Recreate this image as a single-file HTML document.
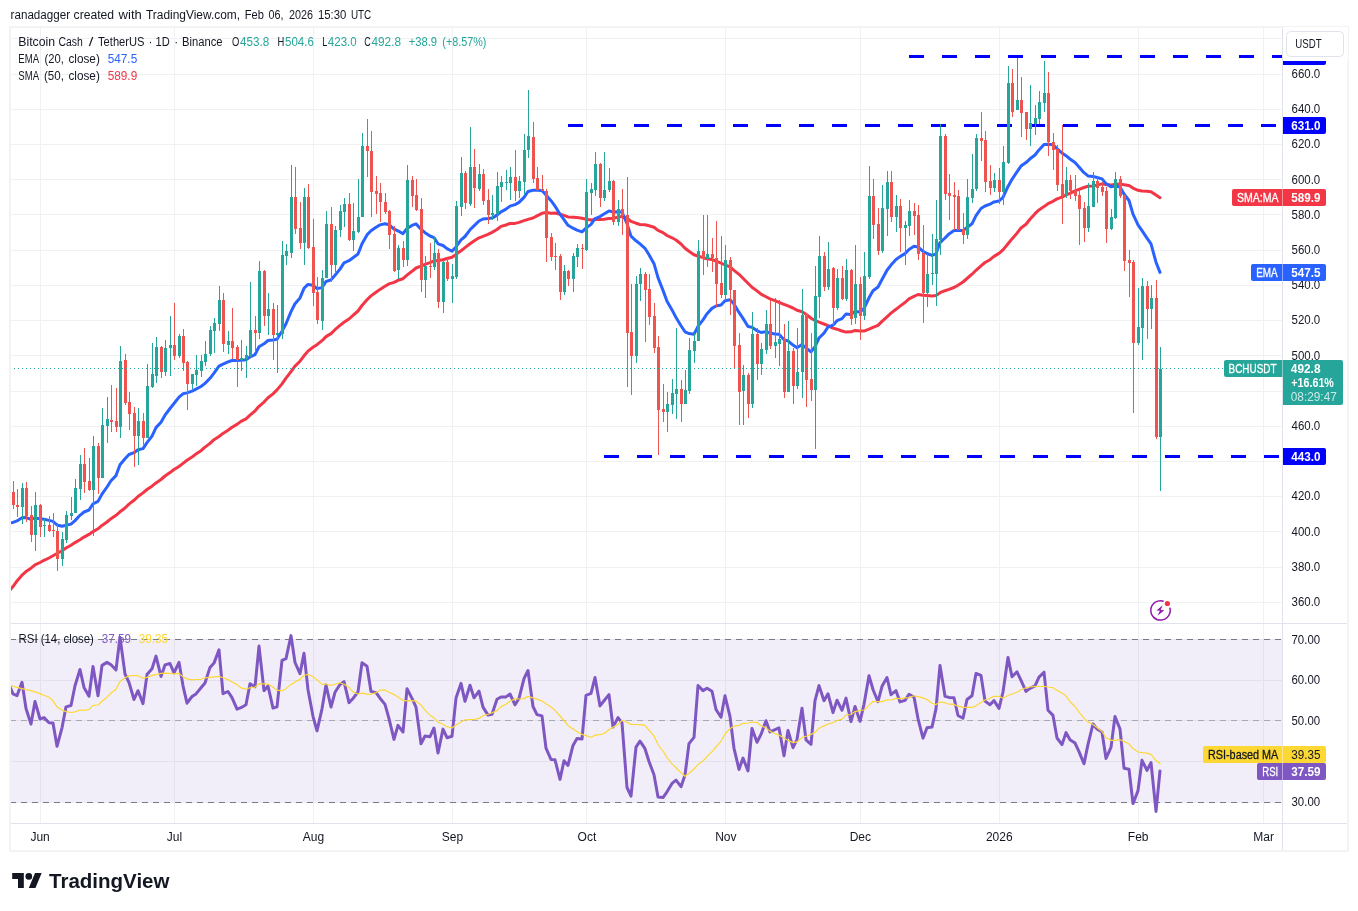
<!DOCTYPE html><html><head><meta charset="utf-8"><title>BCHUSDT</title><style>html,body{margin:0;padding:0;background:#fff}svg{display:block;will-change:transform}</style></head><body><svg width="1358" height="911" viewBox="0 0 1358 911" font-family="Liberation Sans, sans-serif" font-size="12">
<rect width="1358" height="911" fill="#fff"/>
<path d="M10 602.5H1282 M10 567.5H1282 M10 531.5H1282 M10 496.5H1282 M10 461.5H1282 M10 426.5H1282 M10 391.5H1282 M10 355.5H1282 M10 320.5H1282 M10 285.5H1282 M10 250.5H1282 M10 214.5H1282 M10 179.5H1282 M10 144.5H1282 M10 109.5H1282 M10 74.5H1282 M10 38.5H1282 M10 639.5H1282 M10 680.5H1282 M10 720.5H1282 M10 761.5H1282 M10 802.5H1282 M40.5 27V823 M174.5 27V823 M313.5 27V823 M452.5 27V823 M586.5 27V823 M725.5 27V823 M860.5 27V823 M999.5 27V823 M1138.5 27V823 M1263.5 27V823" stroke="#f0f1f3" stroke-width="1" fill="none" shape-rendering="crispEdges"/>
<rect x="10" y="639.4" width="1272" height="162.80000000000007" fill="#7e57c2" fill-opacity="0.1"/>
<path d="M10 639.5H1282" stroke="#787b86" stroke-opacity="1" stroke-width="1" stroke-dasharray="6 5" shape-rendering="crispEdges"/>
<path d="M10 720.5H1282" stroke="#787b86" stroke-opacity="0.55" stroke-width="1" stroke-dasharray="6 5" shape-rendering="crispEdges"/>
<path d="M10 802.5H1282" stroke="#787b86" stroke-opacity="1" stroke-width="1" stroke-dasharray="6 5" shape-rendering="crispEdges"/>
<path d="M909 56.5H1283" stroke="#0000ff" stroke-width="3" stroke-dasharray="15 18" shape-rendering="crispEdges"/>
<path d="M568 125.5H1283" stroke="#0000ff" stroke-width="3" stroke-dasharray="15 18" shape-rendering="crispEdges"/>
<path d="M604 456.5H1283" stroke="#0000ff" stroke-width="3" stroke-dasharray="15 18" shape-rendering="crispEdges"/>
<clipPath id="cp"><rect x="10" y="27" width="1272" height="596"/></clipPath><clipPath id="cr"><rect x="10" y="624" width="1272" height="199"/></clipPath>
<g clip-path="url(#cp)">
<polyline points="8.0,592.3 13.0,586.6 17.0,580.9 22.0,575.2 26.0,571.6 31.0,568.2 35.0,564.8 40.0,562.5 44.0,560.3 49.0,558.0 53.0,555.8 57.0,553.5 62.0,550.8 66.0,548.0 71.0,545.3 75.0,542.6 80.0,539.8 84.0,537.1 89.0,534.4 93.0,531.6 98.0,528.8 102.0,525.4 107.0,522.0 111.0,518.7 116.0,515.3 120.0,511.8 125.0,508.0 129.0,504.1 134.0,500.3 138.0,496.5 143.0,492.9 147.0,489.5 152.0,486.2 156.0,482.9 161.0,479.5 165.0,476.0 170.0,472.6 174.0,469.5 179.0,466.5 183.0,463.4 187.0,460.3 192.0,457.1 196.0,453.9 201.0,450.7 205.0,447.1 210.0,443.4 214.0,439.7 219.0,436.5 223.0,433.4 228.0,430.3 232.0,427.3 237.0,424.4 241.0,421.4 246.0,418.8 250.0,415.1 255.0,411.0 259.0,406.3 264.0,402.1 268.0,397.8 273.0,393.9 277.0,389.9 282.0,383.9 286.0,378.1 291.0,371.7 295.0,366.1 300.0,361.2 304.0,355.8 308.0,351.1 313.0,347.2 317.0,344.7 322.0,340.7 326.0,336.6 331.0,333.6 335.0,329.7 340.0,325.4 344.0,322.3 349.0,319.0 353.0,315.4 358.0,311.0 362.0,305.5 367.0,299.8 371.0,295.9 376.0,292.3 380.0,289.4 385.0,286.2 389.0,283.9 394.0,282.4 398.0,280.3 403.0,278.7 407.0,275.1 412.0,271.3 416.0,268.0 421.0,266.2 425.0,264.3 430.0,262.6 434.0,261.0 438.0,260.6 443.0,259.8 447.0,258.5 452.0,257.2 456.0,254.4 461.0,250.7 465.0,247.6 470.0,243.8 474.0,241.0 479.0,237.8 483.0,236.4 488.0,234.4 492.0,232.4 497.0,229.5 501.0,226.4 506.0,225.0 510.0,223.5 515.0,223.4 519.0,222.4 524.0,220.6 528.0,219.4 533.0,218.0 537.0,215.9 542.0,213.3 546.0,212.5 551.0,213.2 555.0,213.0 560.0,214.2 564.0,215.4 568.0,216.9 573.0,217.3 577.0,217.6 582.0,218.3 586.0,219.2 591.0,219.9 595.0,219.4 600.0,219.4 604.0,219.2 609.0,218.6 613.0,218.3 618.0,217.1 622.0,216.4 627.0,217.9 631.0,221.4 636.0,223.2 640.0,224.5 645.0,224.7 649.0,225.7 654.0,227.3 658.0,230.4 663.0,232.6 667.0,235.5 672.0,237.8 676.0,240.0 681.0,244.0 685.0,248.3 689.0,251.3 694.0,254.7 698.0,256.0 703.0,257.7 707.0,258.8 712.0,259.6 716.0,261.0 721.0,263.2 725.0,264.8 730.0,266.9 734.0,270.3 739.0,274.3 743.0,278.2 748.0,283.3 752.0,287.2 757.0,290.9 761.0,294.1 766.0,296.8 770.0,298.9 775.0,300.6 779.0,302.3 784.0,304.3 788.0,305.9 793.0,308.0 797.0,310.3 802.0,311.7 806.0,314.3 811.0,318.2 815.0,320.4 819.0,322.2 824.0,324.0 828.0,325.6 833.0,328.1 837.0,329.2 842.0,331.0 846.0,332.1 851.0,331.8 855.0,330.4 860.0,331.0 864.0,331.1 869.0,329.2 873.0,327.4 878.0,325.4 882.0,321.4 887.0,316.8 891.0,313.1 896.0,309.3 900.0,306.1 905.0,302.5 909.0,298.9 914.0,296.3 918.0,294.5 923.0,295.3 927.0,295.6 932.0,296.0 936.0,295.6 940.0,292.7 945.0,290.7 949.0,289.4 954.0,287.5 958.0,285.2 963.0,282.0 967.0,278.5 972.0,274.2 976.0,270.3 981.0,265.8 985.0,262.5 990.0,259.7 994.0,256.4 999.0,253.4 1003.0,249.9 1008.0,243.7 1012.0,238.9 1017.0,233.2 1021.0,228.0 1026.0,224.3 1030.0,219.2 1035.0,213.7 1039.0,209.9 1044.0,206.6 1048.0,203.7 1053.0,201.3 1057.0,198.9 1062.0,197.2 1066.0,194.9 1070.0,193.3 1075.0,190.8 1079.0,189.3 1084.0,187.5 1088.0,186.2 1093.0,185.9 1097.0,185.1 1102.0,183.9 1106.0,184.4 1111.0,185.1 1115.0,184.3 1120.0,184.1 1124.0,184.7 1129.0,185.5 1133.0,188.1 1138.0,190.3 1142.0,191.0 1147.0,191.3 1151.0,191.8 1156.0,195.1 1160.0,197.7" fill="none" stroke="#f23645" stroke-width="3" stroke-linejoin="round" stroke-linecap="round" />
<polyline points="8.0,522.9 13.0,522.4 17.0,520.9 22.0,517.8 26.0,517.6 31.0,519.2 35.0,517.9 40.0,518.7 44.0,519.3 49.0,520.4 53.0,521.4 57.0,525.0 62.0,526.3 66.0,525.2 71.0,524.1 75.0,520.6 80.0,515.3 84.0,512.0 89.0,510.0 93.0,503.9 98.0,501.4 102.0,494.1 107.0,487.0 111.0,480.8 116.0,475.6 120.0,464.7 125.0,458.8 129.0,454.5 134.0,452.7 138.0,449.7 143.0,448.6 147.0,442.6 152.0,436.1 156.0,427.6 161.0,422.3 165.0,415.2 170.0,408.5 174.0,403.5 179.0,397.1 183.0,393.8 187.0,392.9 192.0,391.1 196.0,389.1 201.0,386.5 205.0,383.4 210.0,378.3 214.0,373.1 219.0,366.1 223.0,364.1 228.0,361.9 232.0,360.5 237.0,360.5 241.0,360.3 246.0,359.8 250.0,357.0 255.0,354.6 259.0,346.7 264.0,343.8 268.0,340.5 273.0,340.0 277.0,339.3 282.0,331.3 286.0,323.7 291.0,311.6 295.0,303.7 300.0,297.9 304.0,288.3 308.0,284.4 313.0,285.2 317.0,288.6 322.0,287.6 326.0,281.5 331.0,279.9 335.0,275.2 340.0,269.1 344.0,262.9 349.0,260.7 353.0,257.8 358.0,254.0 362.0,243.7 367.0,234.9 371.0,230.8 376.0,227.2 380.0,224.9 385.0,223.7 389.0,224.7 394.0,229.1 398.0,230.9 403.0,233.7 407.0,228.5 412.0,225.4 416.0,223.9 421.0,229.2 425.0,232.7 430.0,236.0 434.0,237.6 438.0,243.8 443.0,245.5 447.0,248.6 452.0,251.3 456.0,247.0 461.0,239.9 465.0,236.5 470.0,229.8 474.0,225.9 479.0,221.0 483.0,219.0 488.0,218.6 492.0,218.1 497.0,215.1 501.0,211.9 506.0,209.1 510.0,206.1 515.0,204.6 519.0,202.4 524.0,197.4 528.0,191.5 533.0,190.3 537.0,190.3 542.0,190.4 546.0,194.9 551.0,200.7 555.0,206.1 560.0,214.2 564.0,219.6 568.0,225.3 573.0,228.2 577.0,230.1 582.0,231.9 586.0,228.1 591.0,224.4 595.0,218.7 600.0,216.6 604.0,214.1 609.0,210.9 613.0,212.0 618.0,211.7 622.0,212.1 627.0,223.6 631.0,236.2 636.0,240.8 640.0,243.9 645.0,248.3 649.0,254.8 654.0,263.7 658.0,277.6 663.0,290.4 667.0,301.2 672.0,309.9 676.0,317.5 681.0,325.7 685.0,331.8 689.0,333.6 694.0,334.3 698.0,326.4 703.0,319.9 707.0,313.7 712.0,308.4 716.0,306.0 721.0,305.0 725.0,300.7 730.0,299.7 734.0,304.1 739.0,312.4 743.0,318.4 748.0,326.5 752.0,327.2 757.0,330.7 761.0,332.5 766.0,331.7 770.0,333.0 775.0,333.9 779.0,334.3 784.0,339.8 788.0,340.9 793.0,345.1 797.0,347.7 802.0,344.6 806.0,347.9 811.0,351.9 815.0,346.6 819.0,338.0 824.0,333.1 828.0,327.0 833.0,325.2 837.0,320.7 842.0,318.6 846.0,313.9 851.0,314.4 855.0,311.5 860.0,311.9 864.0,308.5 869.0,297.8 873.0,290.8 878.0,287.0 882.0,279.5 887.0,270.2 891.0,265.1 896.0,259.5 900.0,256.6 905.0,253.6 909.0,249.5 914.0,246.3 918.0,247.0 923.0,251.4 927.0,253.5 932.0,255.4 936.0,253.8 940.0,242.6 945.0,238.0 949.0,233.9 954.0,230.4 958.0,230.3 963.0,230.7 967.0,227.5 972.0,223.8 976.0,215.6 981.0,208.5 985.0,206.0 990.0,204.2 994.0,201.9 999.0,201.0 1003.0,197.3 1008.0,186.4 1012.0,179.3 1017.0,171.8 1021.0,166.1 1026.0,162.6 1030.0,158.8 1035.0,155.0 1039.0,149.9 1044.0,144.5 1048.0,144.3 1053.0,144.8 1057.0,148.6 1062.0,153.1 1066.0,155.7 1070.0,159.0 1075.0,162.5 1079.0,166.9 1084.0,172.7 1088.0,175.9 1093.0,176.4 1097.0,177.5 1102.0,178.9 1106.0,183.6 1111.0,186.8 1115.0,186.1 1120.0,187.0 1124.0,194.0 1129.0,200.5 1133.0,214.1 1138.0,224.8 1142.0,230.7 1147.0,238.1 1151.0,243.8 1156.0,262.2 1160.0,272.4" fill="none" stroke="#2962ff" stroke-width="3" stroke-linejoin="round" stroke-linecap="round" />
</g>
<path d="M13 481h1V509h-1z M12 492h3V505h-3z M17 489h1V517h-1z M16 505h3V507h-3z M26 482h1V522h-1z M25 488h3V516h-3z M31 506h1V542h-1z M30 515h3V535h-3z M40 504h1V537h-1z M39 505h3V527h-3z M49 516h1V532h-1z M48 525h3V531h-3z M53 513h1V537h-1z M52 530h3V531h-3z M57 523h1V571h-1z M56 531h3V559h-3z M84 448h1V493h-1z M83 464h3V482h-3z M89 458h1V491h-1z M88 481h3V490h-3z M98 443h1V494h-1z M97 446h3V478h-3z M111 385h1V432h-1z M110 420h3V422h-3z M116 388h1V432h-1z M115 421h3V427h-3z M125 354h1V405h-1z M124 360h3V403h-3z M129 392h1V430h-1z M128 402h3V414h-3z M134 407h1V467h-1z M133 413h3V436h-3z M143 413h1V445h-1z M142 421h3V438h-3z M161 346h1V378h-1z M160 347h3V372h-3z M174 303h1V360h-1z M173 345h3V356h-3z M183 329h1V371h-1z M182 336h3V363h-3z M187 361h1V410h-1z M186 362h3V384h-3z M223 293h1V352h-1z M222 300h3V344h-3z M232 308h1V359h-1z M231 341h3V348h-3z M237 345h1V387h-1z M236 347h3V360h-3z M255 316h1V352h-1z M254 330h3V333h-3z M264 270h1V326h-1z M263 271h3V316h-3z M273 303h1V360h-1z M272 309h3V335h-3z M295 167h1V234h-1z M294 197h3V229h-3z M300 202h1V249h-1z M299 228h3V243h-3z M308 184h1V249h-1z M307 197h3V248h-3z M313 219h1V306h-1z M312 247h3V293h-3z M317 277h1V324h-1z M316 292h3V320h-3z M331 207h1V282h-1z M330 224h3V265h-3z M349 193h1V241h-1z M348 204h3V240h-3z M367 119h1V177h-1z M366 146h3V151h-3z M371 131h1V217h-1z M370 151h3V192h-3z M376 176h1V214h-1z M375 191h3V194h-3z M380 183h1V222h-1z M379 193h3V202h-3z M385 193h1V214h-1z M384 202h3V212h-3z M389 210h1V249h-1z M388 211h3V235h-3z M394 226h1V272h-1z M393 234h3V271h-3z M403 241h1V267h-1z M402 248h3V260h-3z M412 176h1V207h-1z M411 180h3V196h-3z M416 179h1V211h-1z M415 195h3V210h-3z M421 198h1V292h-1z M420 209h3V280h-3z M430 243h1V278h-1z M429 266h3V267h-3z M438 249h1V308h-1z M437 253h3V302h-3z M447 258h1V281h-1z M446 262h3V279h-3z M465 171h1V209h-1z M464 173h3V203h-3z M474 149h1V208h-1z M473 167h3V188h-3z M483 169h1V205h-1z M482 174h3V201h-3z M488 189h1V224h-1z M487 200h3V215h-3z M515 150h1V201h-1z M514 177h3V191h-3z M533 122h1V183h-1z M532 137h3V179h-3z M537 167h1V192h-1z M536 178h3V190h-3z M542 175h1V191h-1z M541 189h3V191h-3z M546 189h1V262h-1z M545 191h3V238h-3z M551 233h1V261h-1z M550 237h3V257h-3z M555 243h1V270h-1z M554 256h3V257h-3z M560 254h1V300h-1z M559 256h3V292h-3z M568 270h1V286h-1z M567 271h3V279h-3z M582 244h1V269h-1z M581 248h3V249h-3z M600 163h1V207h-1z M599 164h3V198h-3z M613 180h1V225h-1z M612 181h3V222h-3z M622 189h1V235h-1z M621 209h3V216h-3z M627 177h1V387h-1z M626 215h3V333h-3z M631 284h1V395h-1z M630 332h3V356h-3z M645 272h1V342h-1z M644 274h3V290h-3z M649 274h1V325h-1z M648 289h3V317h-3z M654 303h1V353h-1z M653 316h3V348h-3z M658 336h1V455h-1z M657 347h3V410h-3z M663 384h1V422h-1z M662 409h3V412h-3z M681 380h1V422h-1z M680 389h3V404h-3z M703 215h1V275h-1z M702 251h3V259h-3z M712 238h1V272h-1z M711 254h3V258h-3z M716 221h1V307h-1z M715 258h3V284h-3z M721 236h1V298h-1z M720 283h3V295h-3z M730 257h1V315h-1z M729 260h3V290h-3z M734 290h1V368h-1z M733 290h3V346h-3z M739 333h1V425h-1z M738 345h3V392h-3z M748 373h1V418h-1z M747 375h3V404h-3z M757 328h1V380h-1z M756 334h3V364h-3z M770 300h1V349h-1z M769 324h3V346h-3z M784 324h1V398h-1z M783 339h3V392h-3z M793 348h1V404h-1z M792 351h3V386h-3z M806 313h1V407h-1z M805 314h3V380h-3z M811 333h1V401h-1z M810 379h3V390h-3z M824 252h1V291h-1z M823 256h3V287h-3z M833 267h1V326h-1z M832 268h3V308h-3z M842 266h1V300h-1z M841 278h3V299h-3z M851 269h1V325h-1z M850 270h3V319h-3z M860 277h1V340h-1z M859 284h3V316h-3z M873 179h1V239h-1z M872 196h3V225h-3z M878 208h1V255h-1z M877 224h3V251h-3z M891 171h1V222h-1z M890 182h3V217h-3z M900 199h1V252h-1z M899 206h3V228h-3z M914 203h1V235h-1z M913 211h3V216h-3z M918 205h1V260h-1z M917 215h3V254h-3z M923 225h1V323h-1z M922 253h3V293h-3z M945 134h1V200h-1z M944 136h3V194h-3z M949 174h1V220h-1z M948 193h3V196h-3z M954 182h1V230h-1z M953 195h3V197h-3z M958 190h1V230h-1z M957 196h3V230h-3z M963 213h1V244h-1z M962 229h3V235h-3z M981 112h1V161h-1z M980 138h3V141h-3z M985 131h1V192h-1z M984 140h3V182h-3z M990 165h1V195h-1z M989 181h3V188h-3z M999 168h1V204h-1z M998 180h3V192h-3z M1012 69h1V117h-1z M1011 83h3V112h-3z M1021 77h1V137h-1z M1020 100h3V113h-3z M1026 112h1V140h-1z M1025 112h3V129h-3z M1048 72h1V156h-1z M1047 93h3V142h-3z M1053 133h1V170h-1z M1052 142h3V150h-3z M1057 145h1V191h-1z M1056 149h3V185h-3z M1062 125h1V224h-1z M1061 184h3V196h-3z M1070 175h1V199h-1z M1069 180h3V191h-3z M1075 175h1V201h-1z M1074 191h3V196h-3z M1079 190h1V245h-1z M1078 195h3V209h-3z M1084 202h1V242h-1z M1083 208h3V228h-3z M1097 177h1V203h-1z M1096 181h3V188h-3z M1102 182h1V196h-1z M1101 187h3V192h-3z M1106 187h1V243h-1z M1105 191h3V229h-3z M1120 176h1V198h-1z M1119 179h3V196h-3z M1124 195h1V271h-1z M1123 195h3V261h-3z M1129 250h1V297h-1z M1128 260h3V263h-3z M1133 260h1V413h-1z M1132 262h3V343h-3z M1147 281h1V339h-1z M1146 286h3V309h-3z M1156 280h1V439h-1z M1155 298h3V437h-3z" fill="#ef5350" shape-rendering="crispEdges"/>
<path d="M22 483h1V524h-1z M21 488h3V507h-3z M35 492h1V551h-1z M34 505h3V535h-3z M44 519h1V537h-1z M43 525h3V526h-3z M62 532h1V566h-1z M61 539h3V559h-3z M66 511h1V543h-1z M65 515h3V540h-3z M71 497h1V520h-1z M70 513h3V516h-3z M75 479h1V513h-1z M74 488h3V513h-3z M80 455h1V500h-1z M79 464h3V489h-3z M93 436h1V536h-1z M92 446h3V490h-3z M102 408h1V478h-1z M101 425h3V478h-3z M107 397h1V443h-1z M106 419h3V426h-3z M120 346h1V438h-1z M119 361h3V427h-3z M138 408h1V465h-1z M137 421h3V436h-3z M147 364h1V438h-1z M146 386h3V438h-3z M152 343h1V388h-1z M151 374h3V387h-3z M156 337h1V383h-1z M155 347h3V376h-3z M165 340h1V376h-1z M164 348h3V372h-3z M170 316h1V376h-1z M169 345h3V348h-3z M179 334h1V358h-1z M178 336h3V356h-3z M192 374h1V389h-1z M191 374h3V384h-3z M196 355h1V386h-1z M195 370h3V375h-3z M201 355h1V377h-1z M200 361h3V371h-3z M205 341h1V366h-1z M204 354h3V362h-3z M210 326h1V356h-1z M209 330h3V354h-3z M214 318h1V353h-1z M213 323h3V331h-3z M219 286h1V331h-1z M218 300h3V324h-3z M228 331h1V354h-1z M227 341h3V345h-3z M241 340h1V371h-1z M240 358h3V360h-3z M246 346h1V378h-1z M245 355h3V359h-3z M250 282h1V357h-1z M249 330h3V356h-3z M259 261h1V339h-1z M258 271h3V333h-3z M268 293h1V335h-1z M267 309h3V316h-3z M277 305h1V373h-1z M276 333h3V335h-3z M282 241h1V339h-1z M281 255h3V334h-3z M286 244h1V265h-1z M285 251h3V256h-3z M291 165h1V258h-1z M290 197h3V253h-3z M304 188h1V265h-1z M303 197h3V243h-3z M322 270h1V330h-1z M321 278h3V321h-3z M326 211h1V278h-1z M325 224h3V278h-3z M335 226h1V272h-1z M334 230h3V265h-3z M340 205h1V237h-1z M339 211h3V230h-3z M344 198h1V227h-1z M343 204h3V212h-3z M353 203h1V251h-1z M352 231h3V240h-3z M358 179h1V233h-1z M357 217h3V232h-3z M362 133h1V217h-1z M361 146h3V217h-3z M398 245h1V279h-1z M397 248h3V270h-3z M407 165h1V266h-1z M406 180h3V260h-3z M425 256h1V298h-1z M424 266h3V280h-3z M434 237h1V270h-1z M433 253h3V267h-3z M443 260h1V313h-1z M442 262h3V302h-3z M452 264h1V303h-1z M451 276h3V279h-3z M456 201h1V279h-1z M455 206h3V277h-3z M461 157h1V216h-1z M460 173h3V207h-3z M470 127h1V206h-1z M469 167h3V204h-3z M479 164h1V191h-1z M478 174h3V189h-3z M492 195h1V220h-1z M491 213h3V215h-3z M497 172h1V221h-1z M496 186h3V214h-3z M501 176h1V202h-1z M500 182h3V187h-3z M506 170h1V190h-1z M505 182h3V183h-3z M510 167h1V200h-1z M509 177h3V183h-3z M519 176h1V198h-1z M518 181h3V191h-3z M524 134h1V195h-1z M523 150h3V182h-3z M528 90h1V158h-1z M527 136h3V150h-3z M564 265h1V295h-1z M563 271h3V292h-3z M573 253h1V292h-1z M572 256h3V279h-3z M577 244h1V267h-1z M576 248h3V257h-3z M586 179h1V251h-1z M585 192h3V250h-3z M591 183h1V215h-1z M590 189h3V193h-3z M595 152h1V196h-1z M594 164h3V190h-3z M604 152h1V201h-1z M603 190h3V198h-3z M609 168h1V192h-1z M608 181h3V190h-3z M618 200h1V226h-1z M617 209h3V222h-3z M636 276h1V363h-1z M635 284h3V356h-3z M640 268h1V301h-1z M639 274h3V284h-3z M667 392h1V432h-1z M666 404h3V412h-3z M672 379h1V414h-1z M671 393h3V405h-3z M676 328h1V419h-1z M675 389h3V394h-3z M685 370h1V404h-1z M684 390h3V404h-3z M689 338h1V394h-1z M688 350h3V391h-3z M694 333h1V363h-1z M693 341h3V351h-3z M698 240h1V341h-1z M697 251h3V341h-3z M707 215h1V267h-1z M706 254h3V259h-3z M725 245h1V301h-1z M724 260h3V295h-3z M743 365h1V425h-1z M742 375h3V391h-3z M752 312h1V408h-1z M751 334h3V404h-3z M761 343h1V375h-1z M760 349h3V364h-3z M766 310h1V354h-1z M765 324h3V350h-3z M775 298h1V358h-1z M774 342h3V346h-3z M779 300h1V366h-1z M778 339h3V344h-3z M788 321h1V392h-1z M787 351h3V392h-3z M797 328h1V389h-1z M796 372h3V386h-3z M802 289h1V398h-1z M801 315h3V372h-3z M815 266h1V449h-1z M814 296h3V390h-3z M819 236h1V318h-1z M818 256h3V297h-3z M828 242h1V290h-1z M827 269h3V287h-3z M837 269h1V310h-1z M836 278h3V308h-3z M846 259h1V301h-1z M845 270h3V299h-3z M855 245h1V324h-1z M854 284h3V318h-3z M864 252h1V320h-1z M863 276h3V316h-3z M869 166h1V279h-1z M868 196h3V277h-3z M882 185h1V253h-1z M881 208h3V251h-3z M887 171h1V236h-1z M886 182h3V209h-3z M896 195h1V232h-1z M895 206h3V217h-3z M905 221h1V265h-1z M904 225h3V228h-3z M909 200h1V236h-1z M908 211h3V226h-3z M927 254h1V307h-1z M926 274h3V293h-3z M932 234h1V285h-1z M931 273h3V274h-3z M936 200h1V306h-1z M935 239h3V274h-3z M940 124h1V255h-1z M939 136h3V240h-3z M967 179h1V239h-1z M966 197h3V235h-3z M972 154h1V203h-1z M971 189h3V198h-3z M976 134h1V191h-1z M975 138h3V189h-3z M994 173h1V192h-1z M993 180h3V188h-3z M1003 146h1V205h-1z M1002 162h3V192h-3z M1008 66h1V164h-1z M1007 83h3V163h-3z M1017 58h1V110h-1z M1016 100h3V110h-3z M1030 85h1V146h-1z M1029 123h3V129h-3z M1035 105h1V135h-1z M1034 118h3V124h-3z M1039 91h1V124h-1z M1038 102h3V119h-3z M1044 61h1V112h-1z M1043 93h3V103h-3z M1066 167h1V198h-1z M1065 180h3V196h-3z M1088 183h1V232h-1z M1087 206h3V228h-3z M1093 172h1V207h-1z M1092 181h3V207h-3z M1111 209h1V230h-1z M1110 217h3V229h-3z M1115 172h1V219h-1z M1114 179h3V218h-3z M1138 288h1V345h-1z M1137 327h3V343h-3z M1142 278h1V360h-1z M1141 286h3V328h-3z M1151 285h1V329h-1z M1150 298h3V309h-3z M1160 347h1V491h-1z M1159 369h3V437h-3z" fill="#26a69a" shape-rendering="crispEdges"/>
<path d="M10 368.5H1282" stroke="#26a69a" stroke-width="1" stroke-dasharray="1 3" shape-rendering="crispEdges"/>
<g clip-path="url(#cr)">
<polyline points="8.0,682.1 13.0,693.9 17.0,695.6 22.0,682.3 26.0,708.5 31.0,724.1 35.0,701.4 40.0,719.0 44.0,717.6 49.0,722.8 53.0,722.9 57.0,746.3 62.0,727.8 66.0,706.9 71.0,705.5 75.0,685.8 80.0,669.5 84.0,687.4 89.0,696.2 93.0,666.4 98.0,695.7 102.0,665.4 107.0,662.4 111.0,664.8 116.0,669.9 120.0,637.2 125.0,674.0 129.0,682.5 134.0,699.5 138.0,690.7 143.0,703.6 147.0,674.6 152.0,668.8 156.0,656.1 161.0,676.4 165.0,664.9 170.0,663.5 174.0,672.8 179.0,662.3 183.0,685.8 187.0,703.2 192.0,696.5 196.0,693.9 201.0,687.8 205.0,683.0 210.0,667.4 214.0,663.1 219.0,649.8 223.0,693.7 228.0,691.5 232.0,697.6 237.0,709.1 241.0,707.7 246.0,704.8 250.0,683.7 255.0,686.8 259.0,646.1 264.0,690.7 268.0,686.0 273.0,708.1 277.0,706.9 282.0,660.4 286.0,658.6 291.0,635.6 295.0,662.5 300.0,673.6 304.0,653.3 308.0,689.7 313.0,716.3 317.0,730.9 322.0,708.8 326.0,685.0 331.0,707.0 335.0,692.3 340.0,684.5 344.0,681.7 349.0,702.6 353.0,698.5 358.0,691.8 362.0,662.7 367.0,666.2 371.0,691.4 376.0,692.6 380.0,698.2 385.0,704.4 389.0,718.7 394.0,739.4 398.0,725.4 403.0,732.0 407.0,688.8 412.0,698.4 416.0,707.1 421.0,743.7 425.0,736.0 430.0,736.7 434.0,728.0 438.0,753.0 443.0,729.1 447.0,737.7 452.0,736.3 456.0,698.1 461.0,683.4 465.0,701.3 470.0,685.2 474.0,697.8 479.0,691.2 483.0,707.1 488.0,715.1 492.0,714.2 497.0,699.2 501.0,697.0 506.0,696.9 510.0,694.0 515.0,704.8 519.0,698.4 524.0,678.6 528.0,670.5 533.0,706.5 537.0,714.6 542.0,715.9 546.0,748.2 551.0,759.5 555.0,759.8 560.0,779.4 564.0,760.8 568.0,765.4 573.0,745.4 577.0,738.5 582.0,739.0 586.0,695.3 591.0,693.4 595.0,677.5 600.0,705.9 604.0,700.8 609.0,694.6 613.0,727.1 618.0,717.6 622.0,722.8 627.0,787.5 631.0,796.2 636.0,747.2 640.0,741.2 645.0,748.7 649.0,761.5 654.0,774.7 658.0,797.0 663.0,797.6 667.0,791.8 672.0,783.4 676.0,780.2 681.0,786.7 685.0,775.0 689.0,743.6 694.0,737.4 698.0,685.5 703.0,690.6 707.0,688.2 712.0,691.3 716.0,709.5 721.0,717.3 725.0,695.8 730.0,716.6 734.0,748.3 739.0,769.4 743.0,758.1 748.0,770.9 752.0,728.5 757.0,742.3 761.0,734.4 766.0,720.7 770.0,731.9 775.0,729.7 779.0,727.9 784.0,755.7 788.0,730.5 793.0,747.7 797.0,739.3 802.0,708.3 806.0,739.8 811.0,744.3 815.0,700.6 819.0,685.6 824.0,700.7 828.0,693.7 833.0,712.6 837.0,700.2 842.0,710.3 846.0,698.1 851.0,721.6 855.0,706.5 860.0,721.3 864.0,704.3 869.0,675.7 873.0,689.5 878.0,701.7 882.0,686.3 887.0,677.5 891.0,694.6 896.0,690.7 900.0,701.9 905.0,700.4 909.0,694.3 914.0,697.0 918.0,718.6 923.0,738.2 927.0,727.8 932.0,727.1 936.0,708.6 940.0,665.4 945.0,696.3 949.0,697.4 954.0,697.8 958.0,715.5 963.0,718.2 967.0,699.5 972.0,695.7 976.0,673.5 981.0,675.4 985.0,701.1 990.0,704.7 994.0,700.6 999.0,708.4 1003.0,692.0 1008.0,657.4 1012.0,676.8 1017.0,671.9 1021.0,680.4 1026.0,691.4 1030.0,688.4 1035.0,685.8 1039.0,677.1 1044.0,672.2 1048.0,710.2 1053.0,715.4 1057.0,738.0 1062.0,744.6 1066.0,732.6 1070.0,739.7 1075.0,743.0 1079.0,751.6 1084.0,763.8 1088.0,744.4 1093.0,724.0 1097.0,729.0 1102.0,732.1 1106.0,758.4 1111.0,747.4 1115.0,716.5 1120.0,729.0 1124.0,768.2 1129.0,769.2 1133.0,803.6 1138.0,790.7 1142.0,760.3 1147.0,770.4 1151.0,762.6 1156.0,811.4 1160.0,770.9" fill="none" stroke="#7e57c2" stroke-width="3" stroke-linejoin="round" stroke-linecap="round" />
<polyline points="8.0,685.0 13.0,686.2 17.0,687.4 22.0,688.6 26.0,689.6 31.0,690.6 35.0,691.9 40.0,693.6 44.0,695.2 49.0,697.2 53.0,700.8 57.0,706.9 62.0,710.1 66.0,711.6 71.0,712.5 75.0,711.9 80.0,710.0 84.0,710.4 89.0,709.5 93.0,705.4 98.0,705.0 102.0,701.2 107.0,697.2 111.0,693.1 116.0,689.3 120.0,681.5 125.0,677.7 129.0,675.9 134.0,675.5 138.0,675.8 143.0,678.3 147.0,677.4 152.0,675.4 156.0,674.7 161.0,673.3 165.0,673.2 170.0,673.3 174.0,673.9 179.0,673.4 183.0,676.8 187.0,678.9 192.0,679.9 196.0,679.5 201.0,679.3 205.0,677.8 210.0,677.3 214.0,676.9 219.0,676.4 223.0,677.7 228.0,679.6 232.0,682.0 237.0,684.6 241.0,687.8 246.0,689.2 250.0,687.8 255.0,687.1 259.0,683.7 264.0,683.9 268.0,684.1 273.0,687.0 277.0,690.2 282.0,690.9 286.0,688.4 291.0,684.4 295.0,681.9 300.0,679.4 304.0,675.5 308.0,674.4 313.0,676.8 317.0,679.9 322.0,684.4 326.0,684.0 331.0,685.5 335.0,684.3 340.0,682.7 344.0,684.3 349.0,687.4 353.0,691.9 358.0,694.0 362.0,693.2 367.0,694.1 371.0,694.3 376.0,692.6 380.0,690.2 385.0,689.9 389.0,692.3 394.0,694.6 398.0,697.0 403.0,700.4 407.0,700.9 412.0,700.6 416.0,701.2 421.0,704.9 425.0,710.2 430.0,715.2 434.0,717.8 438.0,722.1 443.0,724.3 447.0,726.7 452.0,728.0 456.0,725.0 461.0,722.0 465.0,719.8 470.0,719.6 474.0,719.5 479.0,718.4 483.0,715.8 488.0,714.3 492.0,712.7 497.0,710.6 501.0,706.6 506.0,704.3 510.0,701.2 515.0,698.9 519.0,699.0 524.0,698.6 528.0,696.4 533.0,697.9 537.0,699.1 542.0,700.9 546.0,703.8 551.0,707.0 555.0,710.3 560.0,716.0 564.0,720.5 568.0,725.4 573.0,729.1 577.0,731.5 582.0,734.4 586.0,735.6 591.0,737.3 595.0,735.2 600.0,734.6 604.0,733.5 609.0,729.7 613.0,727.3 618.0,724.3 622.0,720.3 627.0,722.2 631.0,724.4 636.0,724.5 640.0,724.7 645.0,725.4 649.0,730.2 654.0,736.0 658.0,744.5 663.0,751.0 667.0,757.5 672.0,763.9 676.0,767.7 681.0,772.6 685.0,776.3 689.0,773.2 694.0,769.0 698.0,764.6 703.0,761.0 707.0,756.7 712.0,751.7 716.0,747.0 721.0,741.3 725.0,734.0 730.0,728.7 734.0,726.1 739.0,725.4 743.0,723.3 748.0,723.0 752.0,722.0 757.0,722.3 761.0,725.8 766.0,727.9 770.0,731.1 775.0,733.8 779.0,735.1 784.0,737.9 788.0,740.4 793.0,742.6 797.0,741.9 802.0,737.6 806.0,736.3 811.0,734.4 815.0,732.4 819.0,728.3 824.0,725.9 828.0,724.0 833.0,722.6 837.0,720.5 842.0,719.2 846.0,715.1 851.0,714.5 855.0,711.6 860.0,710.3 864.0,710.0 869.0,705.4 873.0,701.5 878.0,701.6 882.0,701.6 887.0,699.9 891.0,700.0 896.0,698.4 900.0,698.6 905.0,697.9 909.0,697.6 914.0,695.8 918.0,696.7 923.0,697.9 927.0,699.6 932.0,703.3 936.0,704.6 940.0,702.0 945.0,702.7 949.0,704.2 954.0,704.4 958.0,706.2 963.0,707.3 967.0,707.3 972.0,707.4 976.0,705.7 981.0,702.6 985.0,700.0 990.0,698.3 994.0,696.4 999.0,696.4 1003.0,698.3 1008.0,695.5 1012.0,694.0 1017.0,692.2 1021.0,689.7 1026.0,687.8 1030.0,687.0 1035.0,686.3 1039.0,686.5 1044.0,686.3 1048.0,687.0 1053.0,687.7 1057.0,690.4 1062.0,693.0 1066.0,695.9 1070.0,701.7 1075.0,706.5 1079.0,712.2 1084.0,718.1 1088.0,721.9 1093.0,724.5 1097.0,727.5 1102.0,731.5 1106.0,737.6 1111.0,740.3 1115.0,740.4 1120.0,739.7 1124.0,741.4 1129.0,744.0 1133.0,748.6 1138.0,752.0 1142.0,752.6 1147.0,753.1 1151.0,754.4 1156.0,760.6 1160.0,763.6" fill="none" stroke="#fdd835" stroke-width="1.2" stroke-linejoin="round" stroke-linecap="round" />
</g>
<path d="M1282.5 28V850 M11 623.5H1347 M11 823.5H1347" stroke="#e0e3eb" fill="none" stroke-width="1" shape-rendering="crispEdges"/>
<rect x="10" y="27" width="1338" height="824" fill="none" stroke="#f3f3f4" stroke-width="2" shape-rendering="crispEdges"/>
<text x="1291.5" y="606.0" fill="#131722" textLength="28.7" lengthAdjust="spacingAndGlyphs">360.0</text>
<text x="1291.5" y="570.8" fill="#131722" textLength="28.7" lengthAdjust="spacingAndGlyphs">380.0</text>
<text x="1291.5" y="535.6" fill="#131722" textLength="28.7" lengthAdjust="spacingAndGlyphs">400.0</text>
<text x="1291.5" y="500.4" fill="#131722" textLength="28.7" lengthAdjust="spacingAndGlyphs">420.0</text>
<text x="1291.5" y="465.2" fill="#131722" textLength="28.7" lengthAdjust="spacingAndGlyphs">440.0</text>
<text x="1291.5" y="430.0" fill="#131722" textLength="28.7" lengthAdjust="spacingAndGlyphs">460.0</text>
<text x="1291.5" y="394.8" fill="#131722" textLength="28.7" lengthAdjust="spacingAndGlyphs">480.0</text>
<text x="1291.5" y="359.6" fill="#131722" textLength="28.7" lengthAdjust="spacingAndGlyphs">500.0</text>
<text x="1291.5" y="324.4" fill="#131722" textLength="28.7" lengthAdjust="spacingAndGlyphs">520.0</text>
<text x="1291.5" y="289.2" fill="#131722" textLength="28.7" lengthAdjust="spacingAndGlyphs">540.0</text>
<text x="1291.5" y="254.0" fill="#131722" textLength="28.7" lengthAdjust="spacingAndGlyphs">560.0</text>
<text x="1291.5" y="218.8" fill="#131722" textLength="28.7" lengthAdjust="spacingAndGlyphs">580.0</text>
<text x="1291.5" y="183.6" fill="#131722" textLength="28.7" lengthAdjust="spacingAndGlyphs">600.0</text>
<text x="1291.5" y="148.4" fill="#131722" textLength="28.7" lengthAdjust="spacingAndGlyphs">620.0</text>
<text x="1291.5" y="113.2" fill="#131722" textLength="28.7" lengthAdjust="spacingAndGlyphs">640.0</text>
<text x="1291.5" y="78.0" fill="#131722" textLength="28.7" lengthAdjust="spacingAndGlyphs">660.0</text>
<text x="1291.5" y="643.6" fill="#131722" textLength="28.6" lengthAdjust="spacingAndGlyphs">70.00</text>
<text x="1291.5" y="684.3" fill="#131722" textLength="28.6" lengthAdjust="spacingAndGlyphs">60.00</text>
<text x="1291.5" y="725.0" fill="#131722" textLength="28.6" lengthAdjust="spacingAndGlyphs">50.00</text>
<text x="1291.5" y="806.4" fill="#131722" textLength="28.6" lengthAdjust="spacingAndGlyphs">30.00</text>
<text x="40.1" y="840.7" fill="#131722" text-anchor="middle">Jun</text>
<text x="174.5" y="840.7" fill="#131722" text-anchor="middle">Jul</text>
<text x="313.5" y="840.7" fill="#131722" text-anchor="middle">Aug</text>
<text x="452.4" y="840.7" fill="#131722" text-anchor="middle">Sep</text>
<text x="586.9" y="840.7" fill="#131722" text-anchor="middle">Oct</text>
<text x="725.8" y="840.7" fill="#131722" text-anchor="middle">Nov</text>
<text x="860.3" y="840.7" fill="#131722" text-anchor="middle">Dec</text>
<text x="999.3" y="840.7" fill="#131722" text-anchor="middle">2026</text>
<text x="1138.2" y="840.7" fill="#131722" text-anchor="middle">Feb</text>
<text x="1263.7" y="840.7" fill="#131722" text-anchor="middle">Mar</text>
<path d="M1283 48H1324a2 2 0 0 1 2 2V63a2 2 0 0 1 -2 2H1283z" fill="#0000ff"/>
<text x="1291.2" y="60.7" fill="#fff" font-weight="bold" textLength="29.2" lengthAdjust="spacingAndGlyphs">670.0</text>
<rect x="1283" y="27" width="65" height="34" fill="#fff"/>
<rect x="1286.5" y="31.5" width="57" height="25" rx="4" fill="#fff" stroke="#e0e3eb"/>
<text x="1295.2" y="48.3" fill="#131722" textLength="26.4" lengthAdjust="spacingAndGlyphs">USDT</text>
<path d="M1283 117H1324a2 2 0 0 1 2 2V132a2 2 0 0 1 -2 2H1283z" fill="#0000ff"/>
<text x="1291.2" y="129.7" fill="#fff" font-weight="bold" textLength="29.2" lengthAdjust="spacingAndGlyphs">631.0</text>
<path d="M1234 189H1283V206H1234a2 2 0 0 1 -2 -2V191a2 2 0 0 1 2 -2z" fill="#f23645"/>
<text x="1236.9" y="201.7" fill="#fff" stroke="#fff" stroke-width="0.3" textLength="41.6" lengthAdjust="spacingAndGlyphs">SMA:MA</text>
<path d="M1283 189H1324a2 2 0 0 1 2 2V204a2 2 0 0 1 -2 2H1283z" fill="#f23645"/>
<text x="1291.2" y="201.7" fill="#fff" font-weight="bold" textLength="29.2" lengthAdjust="spacingAndGlyphs">589.9</text>
<path d="M1253 264H1283V281H1253a2 2 0 0 1 -2 -2V266a2 2 0 0 1 2 -2z" fill="#2962ff"/>
<text x="1256.2" y="276.7" fill="#fff" stroke="#fff" stroke-width="0.3" textLength="21.5" lengthAdjust="spacingAndGlyphs">EMA</text>
<path d="M1283 264H1324a2 2 0 0 1 2 2V279a2 2 0 0 1 -2 2H1283z" fill="#2962ff"/>
<text x="1291.2" y="276.7" fill="#fff" font-weight="bold" textLength="29.2" lengthAdjust="spacingAndGlyphs">547.5</text>
<path d="M1283 448H1324a2 2 0 0 1 2 2V463a2 2 0 0 1 -2 2H1283z" fill="#0000ff"/>
<text x="1291.2" y="460.7" fill="#fff" font-weight="bold" textLength="29.2" lengthAdjust="spacingAndGlyphs">443.0</text>
<path d="M1226 360H1283V377H1226a2 2 0 0 1 -2 -2V362a2 2 0 0 1 2 -2z" fill="#26a69a"/>
<text x="1228.6" y="372.7" fill="#fff" stroke="#fff" stroke-width="0.3" textLength="47.9" lengthAdjust="spacingAndGlyphs">BCHUSDT</text>
<path d="M1283 360H1341a2 2 0 0 1 2 2V403a2 2 0 0 1 -2 2H1283z" fill="#26a69a"/>
<text x="1290.8" y="372.7" fill="#fff" font-weight="bold" textLength="29.7" lengthAdjust="spacingAndGlyphs">492.8</text>
<text x="1291.3" y="386.6" fill="#fff" font-weight="bold" textLength="42.6" lengthAdjust="spacingAndGlyphs">+16.61%</text>
<text x="1290.8" y="400.5" fill="#fff" fill-opacity="0.75" textLength="46" lengthAdjust="spacingAndGlyphs">08:29:47</text>
<path d="M1205 746H1283V763H1205a2 2 0 0 1 -2 -2V748a2 2 0 0 1 2 -2z" fill="#fdd835"/>
<text x="1208" y="758.7" fill="#131722" stroke="#131722" stroke-width="0.3" textLength="70.3" lengthAdjust="spacingAndGlyphs">RSI-based MA</text>
<path d="M1283 746H1324a2 2 0 0 1 2 2V761a2 2 0 0 1 -2 2H1283z" fill="#fdd835"/>
<text x="1291.2" y="758.7" fill="#131722"  textLength="29.2" lengthAdjust="spacingAndGlyphs">39.35</text>
<path d="M1259 763H1283V780H1259a2 2 0 0 1 -2 -2V765a2 2 0 0 1 2 -2z" fill="#7e57c2"/>
<text x="1262.3" y="775.7" fill="#fff" stroke="#fff" stroke-width="0.3" textLength="16.0" lengthAdjust="spacingAndGlyphs">RSI</text>
<path d="M1283 763H1324a2 2 0 0 1 2 2V778a2 2 0 0 1 -2 2H1283z" fill="#7e57c2"/>
<text x="1291.2" y="775.7" fill="#fff" font-weight="bold" textLength="29.2" lengthAdjust="spacingAndGlyphs">37.59</text>
<path d="M1282.5 189V206 M1282.5 264V281 M1282.5 360V377 M1282.5 746V780" stroke="#fff" stroke-opacity="0.45" stroke-width="1" shape-rendering="crispEdges"/>
<text x="10.6" y="18.8" fill="#131722" textLength="59.5" lengthAdjust="spacingAndGlyphs" >ranadagger</text>
<text x="73.6" y="18.8" fill="#131722" textLength="40.5" lengthAdjust="spacingAndGlyphs" >created</text>
<text x="118.6" y="18.8" fill="#131722" textLength="23.2" lengthAdjust="spacingAndGlyphs" >with</text>
<text x="146" y="18.8" fill="#131722" textLength="94.1" lengthAdjust="spacingAndGlyphs" >TradingView.com,</text>
<text x="244.8" y="18.8" fill="#131722" textLength="19.1" lengthAdjust="spacingAndGlyphs" >Feb</text>
<text x="268.4" y="18.8" fill="#131722" textLength="15.1" lengthAdjust="spacingAndGlyphs" >06,</text>
<text x="289.1" y="18.8" fill="#131722" textLength="24.0" lengthAdjust="spacingAndGlyphs" >2026</text>
<text x="318" y="18.8" fill="#131722" textLength="28.4" lengthAdjust="spacingAndGlyphs" >15:30</text>
<text x="350.9" y="18.8" fill="#131722" textLength="20.3" lengthAdjust="spacingAndGlyphs" >UTC</text>
<text x="18.3" y="45.6" fill="#131722" textLength="36.8" lengthAdjust="spacingAndGlyphs" >Bitcoin</text>
<text x="58.4" y="45.6" fill="#131722" textLength="24.3" lengthAdjust="spacingAndGlyphs" >Cash</text>
<text x="88.8" y="45.6" fill="#131722" textLength="4.6" lengthAdjust="spacingAndGlyphs" >/</text>
<text x="98" y="45.6" fill="#131722" textLength="46.5" lengthAdjust="spacingAndGlyphs" >TetherUS</text>
<text x="155.6" y="45.6" fill="#131722" textLength="14.2" lengthAdjust="spacingAndGlyphs" >1D</text>
<text x="182.1" y="45.6" fill="#131722" textLength="40.5" lengthAdjust="spacingAndGlyphs" >Binance</text>
<text x="150.4" y="45.6" fill="#131722" text-anchor="middle">·</text><text x="176.2" y="45.6" fill="#131722" text-anchor="middle">·</text>
<text x="232" y="45.6" fill="#131722" textLength="7.3" lengthAdjust="spacingAndGlyphs" >O</text>
<text x="240" y="45.6" fill="#26a69a" textLength="29.1" lengthAdjust="spacingAndGlyphs" >453.8</text>
<text x="277.5" y="45.6" fill="#131722" textLength="6.8" lengthAdjust="spacingAndGlyphs" >H</text>
<text x="285" y="45.6" fill="#26a69a" textLength="28.8" lengthAdjust="spacingAndGlyphs" >504.6</text>
<text x="322.2" y="45.6" fill="#131722" textLength="5.0" lengthAdjust="spacingAndGlyphs" >L</text>
<text x="327.8" y="45.6" fill="#26a69a" textLength="28.9" lengthAdjust="spacingAndGlyphs" >423.0</text>
<text x="364.3" y="45.6" fill="#131722" textLength="6.5" lengthAdjust="spacingAndGlyphs" >C</text>
<text x="371.5" y="45.6" fill="#26a69a" textLength="29.5" lengthAdjust="spacingAndGlyphs" >492.8</text>
<text x="408.7" y="45.6" fill="#26a69a" textLength="28.4" lengthAdjust="spacingAndGlyphs" >+38.9</text>
<text x="442.3" y="45.6" fill="#26a69a" textLength="44.1" lengthAdjust="spacingAndGlyphs" >(+8.57%)</text>
<text x="18.3" y="62.9" fill="#131722" textLength="20.8" lengthAdjust="spacingAndGlyphs" >EMA</text>
<text x="44.6" y="62.9" fill="#131722" textLength="19.3" lengthAdjust="spacingAndGlyphs" >(20,</text>
<text x="68.5" y="62.9" fill="#131722" textLength="31.3" lengthAdjust="spacingAndGlyphs" >close)</text>
<text x="107.7" y="62.9" fill="#2962ff" textLength="29.5" lengthAdjust="spacingAndGlyphs" >547.5</text>
<text x="18.3" y="79.6" fill="#131722" textLength="20.8" lengthAdjust="spacingAndGlyphs" >SMA</text>
<text x="44" y="79.6" fill="#131722" textLength="19.9" lengthAdjust="spacingAndGlyphs" >(50,</text>
<text x="68.5" y="79.6" fill="#131722" textLength="31.3" lengthAdjust="spacingAndGlyphs" >close)</text>
<text x="107.7" y="79.6" fill="#f23645" textLength="29.5" lengthAdjust="spacingAndGlyphs" >589.9</text>
<text x="18.6" y="642.9" fill="#131722" textLength="75.2" lengthAdjust="spacingAndGlyphs" >RSI (14, close)</text>
<text x="101.7" y="642.9" fill="#7e57c2" textLength="29.2" lengthAdjust="spacingAndGlyphs" >37.59</text>
<text x="138.8" y="642.9" fill="#fdd835" textLength="29.2" lengthAdjust="spacingAndGlyphs" >39.35</text>
<g transform="translate(1160.5,610.4)"><circle r="10.6" fill="#fff"/><path d="M9.3 -2.77A9.7 9.7 0 1 1 3.17 -9.17" fill="none" stroke="#9118ab" stroke-width="1.5"/><path d="M2.1 -5.05L-4.04 0.13L-0.53 0.31L-3.16 5.27L3.86 -0.13L0.13 -0.44z" fill="#9118ab"/><circle cx="6.9" cy="-6.9" r="2.6" fill="#f23645"/></g>
<g transform="translate(12.2,869.8) scale(0.83)" fill="#131722"><path d="M14 22H7V11H0V4h14v18z M28 22h-8l7.5-18h8L28 22z"/><circle cx="20" cy="8" r="4"/></g>
<text x="49" y="888" fill="#131722" font-size="20.5" font-weight="bold" textLength="120.5" lengthAdjust="spacingAndGlyphs">TradingView</text>
</svg></body></html>
